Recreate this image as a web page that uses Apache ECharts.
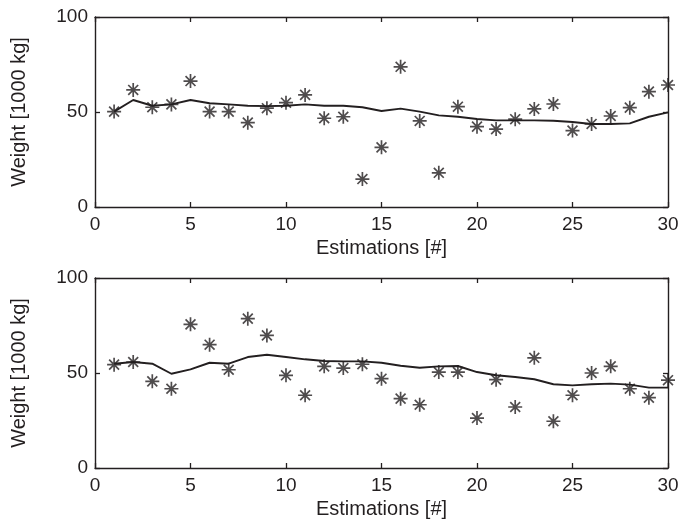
<!DOCTYPE html>
<html>
<head>
<meta charset="utf-8">
<script src="https://cdn.jsdelivr.net/npm/echarts@6/dist/echarts.min.js"></script>
<style>html,body{margin:0;padding:0;background:#fff}#c{width:683px;height:525px}</style>
</head>
<body>
<div id="c"></div>
<script>
const estimations = [1,2,3,4,5,6,7,8,9,10,11,12,13,14,15,16,17,18,19,20,21,22,23,24,25,26,27,28,29,30];
const topPoints = [50.2,61.6,52.5,54,66.3,50.2,50.2,44.4,52,54.9,59,46.7,47.5,14.7,31.4,73.8,45.3,18,52.8,42.3,41,46.2,51.6,54.2,40.2,43.7,47.9,52.3,60.7,64.2];
const topLine = [50.2,56.3,53.3,54,56.3,54.6,54,53.3,53.1,53.3,54,53.3,53.3,52.5,50.5,51.8,50.2,48.2,47.5,46.3,45.6,45.6,45.6,45.4,44.7,43.7,43.7,44,47.5,49.8];
const bottomPoints = [54.4,55.8,45.6,41.7,75.6,64.9,51.7,78.6,69.8,48.8,38.3,53.5,52.6,54.6,47,36.5,33.3,50.5,50.5,26.3,46.5,32.1,58,24.6,38.3,50,53.5,41.7,37,46.2];
const bottomLine = [54.9,55.8,54.9,49.6,51.9,55.4,54.9,58.4,59.6,58.4,57.2,56.3,56.1,56.1,55.4,53.8,52.8,53.5,53.7,50.5,48.8,47.9,46.7,44.1,43.5,44.1,44.4,43.9,42.3,42.3];
const xTicks = [0,5,10,15,20,25,30];
const yTicks = [0,50,100];
const xLabel = 'Estimations [#]';
const yLabel = 'Weight [1000 kg]';

const INK = '#231f20';
const FONT = "'Liberation Sans', Arial, sans-serif";
const STAR = 'path://M0,-10L0,10M-10,0L10,0M-7.07,-7.07L7.07,7.07M-7.07,7.07L7.07,-7.07';

function pairs(vals){ return vals.map((v,i)=>[estimations[i], v]); }

const grids = [
  {left:95, top:17, width:573, height:190},
  {left:95, top:278, width:573, height:190}
];

const xAxes = [], yAxes = [], series = [];
[0,1].forEach(g => {
  const base = {
    type:'value', min:xTicks[0], max:xTicks[xTicks.length-1], interval:xTicks[1]-xTicks[0], gridIndex:g,
    axisLine:{show:true, onZero:false, lineStyle:{color:INK, width:1.4}},
    axisTick:{show:true, inside:true, length:5, lineStyle:{color:INK, width:1.3}},
    splitLine:{show:false}
  };
  xAxes.push(Object.assign({}, base, {
    position:'bottom',
    axisLabel:{show:true, color:INK, fontSize:19, fontFamily:FONT, margin:8},
    name:xLabel, nameLocation:'middle', nameGap:31,
    nameTextStyle:{color:INK, fontSize:20, fontFamily:FONT}
  }));
  xAxes.push(Object.assign({}, base, {position:'top', axisLabel:{show:false}}));
  const ybase = {
    type:'value', min:yTicks[0], max:yTicks[yTicks.length-1], interval:yTicks[1]-yTicks[0], gridIndex:g,
    axisLine:{show:true, onZero:false, lineStyle:{color:INK, width:1.4}},
    axisTick:{show:true, inside:true, length:5, lineStyle:{color:INK, width:1.3}},
    splitLine:{show:false}
  };
  yAxes.push(Object.assign({}, ybase, {
    position:'left',
    axisLabel:{show:true, color:INK, fontSize:19, fontFamily:FONT, margin:7},
    name:yLabel, nameLocation:'middle', nameGap:66, nameRotate:90,
    nameTextStyle:{color:INK, fontSize:20, fontFamily:FONT}
  }));
  yAxes.push(Object.assign({}, ybase, {position:'right', axisLabel:{show:false}}));

  const pts = g === 0 ? topPoints : bottomPoints;
  const ln = g === 0 ? topLine : bottomLine;
  series.push({
    type:'line', xAxisIndex:g*2, yAxisIndex:g*2, data:pairs(ln),
    showSymbol:false, symbol:'none', silent:true,
    lineStyle:{color:INK, width:1.9}, z:2
  });
  series.push({
    type:'scatter', xAxisIndex:g*2, yAxisIndex:g*2, data:pairs(pts),
    symbol:STAR, symbolSize:14, silent:true,
    itemStyle:{color:'none', borderColor:INK, borderWidth:1.7}, z:3
  });
});

const chart = echarts.init(document.getElementById('c'), null, {renderer:'canvas'});
chart.setOption({
  animation:false,
  backgroundColor:'#fff',
  grid:grids,
  xAxis:xAxes,
  yAxis:yAxes,
  series:series
});
</script>
</body>
</html>
